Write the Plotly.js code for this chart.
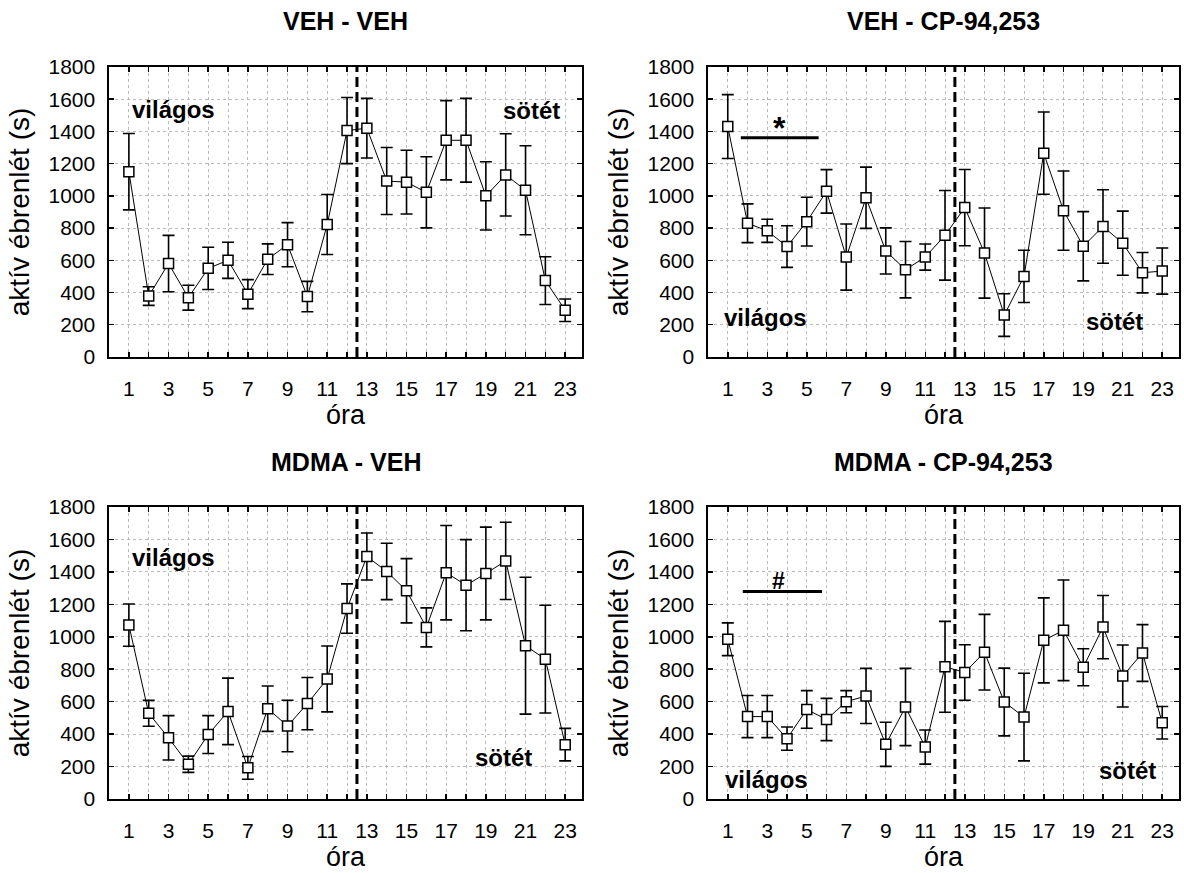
<!DOCTYPE html>
<html>
<head>
<meta charset="utf-8">
<script src="https://cdn.plot.ly/plotly-3.0.1.min.js"></script>
<style>
html, body { margin: 0; padding: 0; background: #fff; }
#chart { width: 1184px; height: 873px; }
</style>
</head>
<body>
<div id="chart"></div>
<script>
// ---- data ----
const hours = [1,2,3,4,5,6,7,8,9,10,11,12,13,14,15,16,17,18,19,20,21,22,23];
const xTickLabels = ['1','','3','','5','','7','','9','','11','','13','','15','','17','','19','','21','','23'];
const yTickVals = [0,200,400,600,800,1000,1200,1400,1600,1800];
const panelTitles = ['VEH - VEH', 'VEH - CP-94,253', 'MDMA - VEH', 'MDMA - CP-94,253'];

const vehVehMean = [1150, 378, 580, 368, 550, 600, 390, 607, 697, 375, 822, 1405, 1420, 1092, 1085, 1022, 1345, 1345, 1000, 1130, 1035, 474, 290];
const vehVehSE   = [237, 58, 175, 77, 131, 112, 90, 95, 137, 94, 186, 205, 185, 208, 198, 221, 246, 260, 212, 255, 276, 148, 70];

const vehCpMean = [1430, 830, 783, 685, 840, 1028, 620, 988, 658, 542, 620, 755, 927, 645, 260, 500, 1265, 908, 687, 810, 706, 523, 533];
const vehCpSE   = [198, 120, 72, 129, 151, 135, 205, 190, 143, 175, 81, 278, 237, 280, 132, 162, 255, 246, 215, 228, 199, 125, 143];

const mdmaVehMean = [1072, 528, 377, 214, 397, 540, 192, 557, 450, 588, 740, 1174, 1495, 1403, 1284, 1058, 1395, 1318, 1390, 1468, 945, 862, 335];
const mdmaVehSE   = [130, 80, 137, 50, 117, 205, 70, 140, 159, 161, 203, 152, 145, 174, 198, 120, 291, 281, 286, 238, 422, 332, 100];

const mdmaCpMean = [985, 508, 508, 372, 552, 490, 600, 635, 337, 567, 320, 815, 780, 905, 598, 505, 978, 1040, 812, 1060, 758, 900, 470];
const mdmaCpSE   = [101, 130, 130, 72, 116, 130, 68, 170, 136, 238, 105, 280, 171, 233, 209, 270, 262, 310, 114, 195, 191, 175, 100];

const lightLabel = 'világos';
const darkLabel = 'sötét';
const phaseBoundary = 12.5;
const sigBars = [ // [panel index, x start, x end, y, symbol, symbol x, symbol y, symbol size]
  [1, 1.66, 5.6, 1360, '*', 3.63, 1424, 32],
  [3, 1.76, 5.77, 1280, '#', 3.59, 1341, 23]
];
// label positions [lightX, lightY, darkX, darkY]
const phaseLabelPos = [
  [1.07, 1533, 19.76, 1527],
  [0.70, 242, 19.02, 219],
  [1.07, 1486, 18.33, 253],
  [0.76, 117, 19.72, 173]
];

// ---- layout ----
const FONT = 'Liberation Sans, Arial, sans-serif';
const xDomains = [[0.0921, 0.4916], [0.5980, 0.9958], [0.0921, 0.4916], [0.5980, 0.9958]];
const yDomains = [[0.5911, 0.9233], [0.5911, 0.9233], [0.0848, 0.4192], [0.0848, 0.4192]];
const means = [vehVehMean, vehCpMean, mdmaVehMean, mdmaCpMean];
const ses = [vehVehSE, vehCpSE, mdmaVehSE, mdmaCpSE];

const traces = [];
const layout = {
  width: 1184, height: 873,
  margin: {l: 0, r: 0, t: 0, b: 0},
  paper_bgcolor: '#fff', plot_bgcolor: '#fff',
  showlegend: false,
  font: {family: FONT, color: '#000'},
  shapes: [], annotations: []
};

for (let i = 0; i < 4; i++) {
  const sfx = i === 0 ? '' : String(i + 1);
  traces.push({
    type: 'scatter', mode: 'lines+markers',
    x: hours, y: means[i],
    xaxis: 'x' + sfx, yaxis: 'y' + sfx,
    line: {color: '#000', width: 1},
    marker: {symbol: 'square', size: 10, color: '#fff', line: {color: '#000', width: 1.5}},
    error_y: {type: 'data', array: ses[i], visible: true, color: '#000', thickness: 1.6, width: 6},
    cliponaxis: false
  });
  const common = {
    showline: true, linecolor: '#000', linewidth: 1.6, mirror: 'ticks',
    ticks: 'inside', ticklen: 5, tickwidth: 1.5, tickcolor: '#000',
    showgrid: true, gridcolor: '#bbbbbb', gridwidth: 1, griddash: 'dot',
    zeroline: false, tickfont: {family: FONT, size: 21, color: '#000'}
  };
  layout['xaxis' + sfx] = Object.assign({}, common, {
    domain: xDomains[i], anchor: 'y' + sfx, range: [0, 23.85],
    tickmode: 'array', tickvals: hours, ticktext: xTickLabels,
    ticklabelstandoff: 12,
    title: {text: 'óra', font: {family: FONT, size: 27, color: '#000'}, standoff: 1}
  });
  layout['yaxis' + sfx] = Object.assign({}, common, {
    domain: yDomains[i], anchor: 'x' + sfx, range: [0, 1800],
    tickmode: 'array', tickvals: yTickVals,
    ticklabelstandoff: 8,
    title: {text: 'aktív ébrenlét (s)', font: {family: FONT, size: 28, color: '#000'}, standoff: 11}
  });
  layout.shapes.push({
    type: 'line', xref: 'x' + sfx, yref: 'y' + sfx,
    x0: phaseBoundary, x1: phaseBoundary, y0: 0, y1: 1800,
    line: {color: '#000', width: 3, dash: '10px,5px'}
  });
  layout.annotations.push({
    text: '<b>' + panelTitles[i] + '</b>', xref: 'paper', yref: 'paper',
    x: (xDomains[i][0] + xDomains[i][1]) / 2, y: i < 2 ? 0.9759 : 0.4708,
    xanchor: 'center', yanchor: 'middle', showarrow: false,
    font: {family: FONT, size: 25, color: '#000'}
  });
  const p = phaseLabelPos[i];
  layout.annotations.push({
    text: '<b>' + lightLabel + '</b>', xref: 'x' + sfx, yref: 'y' + sfx,
    x: p[0], y: p[1], xanchor: 'left', yanchor: 'middle', showarrow: false,
    font: {family: FONT, size: 24, color: '#000'}
  });
  layout.annotations.push({
    text: '<b>' + darkLabel + '</b>', xref: 'x' + sfx, yref: 'y' + sfx,
    x: p[2], y: p[3], xanchor: 'left', yanchor: 'middle', showarrow: false,
    font: {family: FONT, size: 24, color: '#000'}
  });
}

sigBars.forEach(function (s) {
  const sfx = s[0] === 0 ? '' : String(s[0] + 1);
  layout.shapes.push({
    type: 'line', xref: 'x' + sfx, yref: 'y' + sfx,
    x0: s[1], x1: s[2], y0: s[3], y1: s[3],
    line: {color: '#000', width: 3}
  });
  layout.annotations.push({
    text: '<b>' + s[4] + '</b>', xref: 'x' + sfx, yref: 'y' + sfx,
    x: s[5], y: s[6], xanchor: 'center', yanchor: 'middle', showarrow: false,
    font: {family: FONT, size: s[7], color: '#000'}
  });
});

Plotly.newPlot('chart', traces, layout, {staticPlot: true, displayModeBar: false});
</script>
</body>
</html>
